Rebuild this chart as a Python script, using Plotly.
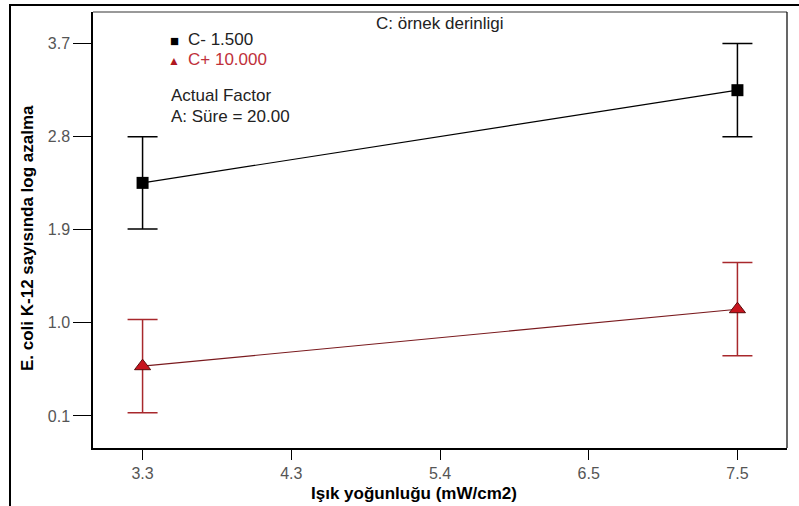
import plotly.graph_objects as go

x_vals = [3.3, 7.5]
low_c = [2.35, 3.245]
low_err = [0.445, 0.45]
high_c = [0.58, 1.13]
high_err = [0.45, 0.45]
x_tickvals = [3.3, 4.35, 5.4, 6.45, 7.5]
x_ticktext = ["3.3", "4.3", "5.4", "6.5", "7.5"]
y_tickvals = [0.1, 1.0, 1.9, 2.8, 3.7]
y_ticktext = ["0.1", "1.0", "1.9", "2.8", "3.7"]

RED = "#a8282c"
fig = go.Figure()
fig.add_trace(go.Scatter(
    x=x_vals, y=low_c, mode="lines+markers",
    line=dict(color="black", width=1.2),
    marker=dict(symbol="square", size=12, color="black"),
    error_y=dict(type="data", array=low_err, visible=True, color="black", thickness=1.5, width=15),
    showlegend=False))
fig.add_trace(go.Scatter(
    x=x_vals, y=high_c, mode="lines+markers",
    line=dict(color="#7a1a1e", width=1.2),
    marker=dict(symbol="triangle-up", size=14, color="#c8141e", line=dict(color="#5a0a0a", width=1)),
    error_y=dict(type="data", array=high_err, visible=True, color=RED, thickness=1.5, width=15),
    showlegend=False))

fig.update_layout(
    width=799, height=506,
    margin=dict(l=93, r=12, t=12, b=58),
    paper_bgcolor="white", plot_bgcolor="white",
    font=dict(family="Arial, Liberation Sans, sans-serif", size=16, color="#333"),
    xaxis=dict(range=[2.95, 7.85], tickvals=x_tickvals, ticktext=x_ticktext,
               showgrid=False, zeroline=False, showline=True, linecolor="black", linewidth=1.5,
               ticks="outside", ticklen=10, tickcolor="black", tickwidth=1,
               tickfont=dict(size=16, color="#555")),
    yaxis=dict(range=[-0.21, 4.0], tickvals=y_tickvals, ticktext=y_ticktext,
               showgrid=False, zeroline=False, showline=True, linecolor="black", linewidth=1.5,
               ticks="outside", ticklen=18, tickcolor="black", tickwidth=1,
               tickfont=dict(size=16, color="#555")),
)

W, H = 694.0, 436.0
def px(xp):
    return (xp - 93) / W
def py(yp):
    return 1 - (yp - 12) / H

shapes = [
    dict(type="line", xref="paper", yref="paper", x0=0, x1=1, y0=1, y1=1, line=dict(color="#777", width=1.5)),
    dict(type="line", xref="paper", yref="paper", x0=1, x1=1, y0=0, y1=1, line=dict(color="black", width=1.2)),
    dict(type="line", xref="paper", yref="paper", x0=px(10), x1=px(10), y0=py(4), y1=py(510), line=dict(color="black", width=2)),
    dict(type="line", xref="paper", yref="paper", x0=px(9), x1=px(805), y0=py(5), y1=py(5), line=dict(color="black", width=2)),
]
fig.update_layout(shapes=shapes)

ann = [
    dict(text="C: örnek derinligi", x=px(440), y=py(23), font=dict(size=17, color="#222")),
    dict(text="■", x=px(174), y=py(40), font=dict(size=15, color="black")),
    dict(text="C- 1.500", x=px(186), y=py(39), xanchor="left", font=dict(size=17, color="#222")),
    dict(text="▲", x=px(174), y=py(61), font=dict(size=12, color="#b01820")),
    dict(text="C+ 10.000", x=px(186), y=py(59.5), xanchor="left", font=dict(size=17, color="#c0303a")),
    dict(text="Actual Factor", x=px(169), y=py(96), xanchor="left", font=dict(size=17, color="#222")),
    dict(text="A: Süre = 20.00", x=px(169), y=py(116), xanchor="left", font=dict(size=17, color="#222")),
    dict(text="<b>Işık yoğunluğu (mW/cm2)</b>", x=px(414), y=py(494), font=dict(size=17, color="black")),
    dict(text="<b>E. coli K-12 sayısında log azalma</b>", x=px(27), y=py(238), textangle=-90, font=dict(size=17, color="black")),
]
for a in ann:
    a.setdefault("xanchor", "center")
    fig.add_annotation(xref="paper", yref="paper", showarrow=False, yanchor="middle", **a)

fig.write_html("out.html", config={"displayModeBar": False},
               post_script="document.body.style.margin='0';document.body.style.overflow='hidden';")
